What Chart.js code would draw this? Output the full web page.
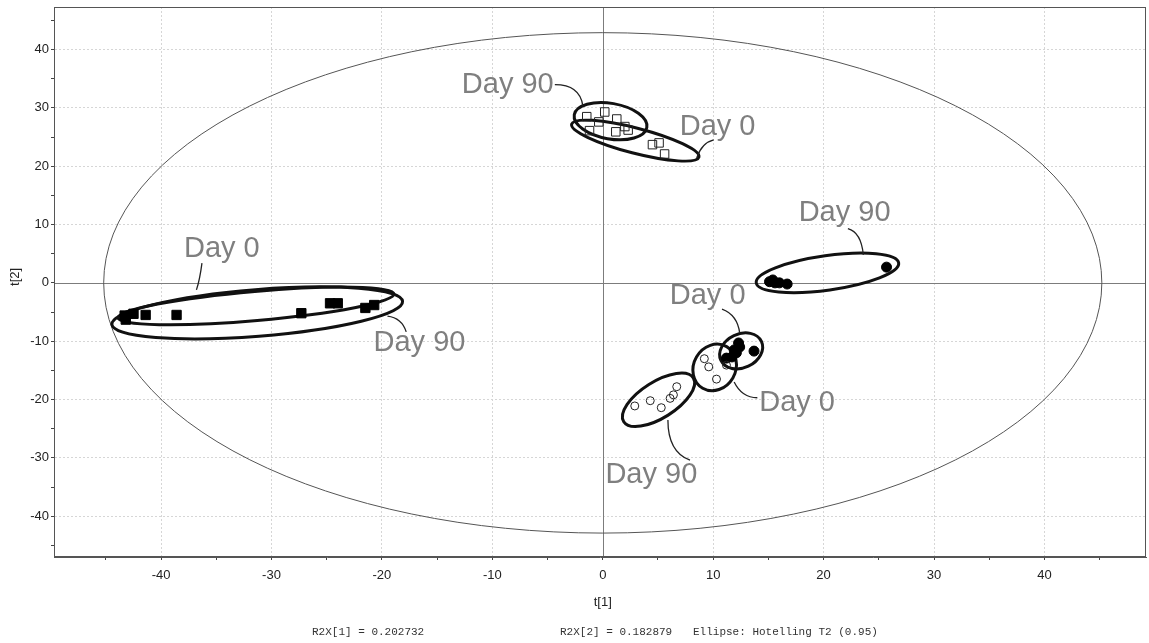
<!DOCTYPE html>
<html>
<head>
<meta charset="utf-8">
<title>PCA score plot t[1] / t[2]</title>
<script src="https://cdn.jsdelivr.net/npm/chart.js@4.4.1/dist/chart.umd.min.js"></script>
<style>
  html, body { margin: 0; padding: 0; background: #fff; }
  #wrap { width: 1149px; height: 643px; }
</style>
</head>
<body>
<div id="wrap"><canvas id="scoreChart" width="1149" height="643"></canvas></div>
<script>
// ---- scores (t[1], t[2]) per group ----
const filledSqDay0X  = [-43.3, -41.4, -27.3, -24.0, -20.7];
const filledSqDay0Y  = [-5.6, -5.5, -5.2, -3.5, -3.8];
const filledSqDay90X = [-43.2, -42.5, -38.6, -24.7, -21.5];
const filledSqDay90Y = [-6.3, -5.3, -5.5, -3.5, -4.3];

const openSqDay90X = [-1.45, 0.18, -0.36, 1.27, 2.0];
const openSqDay90Y = [28.5, 29.3, 27.6, 28.1, 26.8];
const openSqDay0X  = [-1.2, 1.18, 2.3, 4.5, 5.1, 5.6];
const openSqDay0Y  = [26.1, 25.9, 26.2, 23.7, 24.0, 22.1];

const openCircDay0X  = [9.2, 9.6, 10.3, 11.2];
const openCircDay0Y  = [-13.0, -14.4, -16.5, -14.1];
const openCircDay90X = [2.9, 4.3, 5.3, 6.1, 6.4, 6.7];
const openCircDay90Y = [-21.1, -20.2, -21.4, -19.8, -19.2, -17.8];

const filledCircDay0X  = [12.3, 12.4, 12.1, 11.7, 11.2, 13.7, 11.9];
const filledCircDay0Y  = [-10.3, -11.0, -12.0, -12.7, -12.9, -11.7, -11.5];
const filledCircDay90X = [15.1, 15.4, 15.6, 16.0, 16.7, 25.7];
const filledCircDay90Y = [0.2, 0.5, 0.0, 0.0, -0.2, 2.7];

// ---- group confidence ellipses: major axis end points + half width (t[2] units) ----
const ellipseStart = [[-43.9, -6.0], [-44.46, -7.12], [-2.58, 28.82], [-2.82, 27.22],
                      [10.7, -13.3], [9.05, -18.06], [1.9, -23.8], [13.9, 0.0]];
const ellipseEnd   = [[-18.9, -1.9], [-18.13, -3.17], [3.99, 26.64], [8.71, 21.56],
                      [14.37, -10.03], [11.22, -10.93], [8.2, -16.3], [26.8, 3.43]];
const ellipseHalfWidth = [2.5, 4.0, 3.05, 2.15, 2.9, 3.6, 3.1, 2.95];

// Hotelling T2 (0.95) radii
const hotellingT1 = 45.2;
const hotellingT2 = 42.9;

// ---- group labels with leader curves (start, control, end) ----
const labelText = ['Day 90', 'Day 0', 'Day 90', 'Day 0', 'Day 90', 'Day 0', 'Day 0', 'Day 90'];
const labelAt = [[-8.6, 34.0], [10.4, 26.8], [21.9, 12.0], [-34.5, 5.8],
                 [-16.6, -10.3], [9.5, -2.2], [17.6, -20.6], [4.4, -32.9]];
const leaderPath = [
  [[-4.34, 34.0], [-2.08, 34.0], [-1.81, 30.4]],
  [[8.51, 21.4], [8.96, 24.0], [10.05, 24.5]],
  [[22.2, 9.3], [23.4, 8.7], [23.6, 4.8]],
  [[-36.3, 3.4], [-36.5, 0.5], [-36.8, -1.2]],
  [[-19.5, -5.7], [-18.2, -6.0], [-17.8, -8.4]],
  [[10.8, -4.5], [12.2, -5.5], [12.4, -8.6]],
  [[11.9, -17.0], [12.6, -19.7], [14.0, -19.7]],
  [[5.9, -23.5], [5.9, -29.0], [7.9, -30.4]]
];

const footerText = ['R2X[1] = 0.202732', 'R2X[2] = 0.182879', 'Ellipse: Hotelling T2 (0.95)'];

const zip = (xs, ys) => xs.map((x, i) => ({ x, y: ys[i] }));

function series(label, xs, ys, style, filled, r) {
  return {
    label,
    data: zip(xs, ys),
    pointStyle: style,
    pointRadius: r,
    pointHoverRadius: r,
    pointBackgroundColor: filled ? '#000' : 'rgba(0,0,0,0)',
    pointBorderColor: filled ? '#000' : '#222',
    pointBorderWidth: 1,
    showLine: false
  };
}

const overlayPlugin = {
  id: 'scoreOverlay',
  beforeDatasetsDraw(chart) {
    const { ctx, chartArea: a, scales: { x, y } } = chart;
    const px = p => [x.getPixelForValue(p[0]), y.getPixelForValue(p[1])];
    ctx.save();
    ctx.beginPath();
    ctx.rect(a.left, a.top, a.right - a.left, a.bottom - a.top);
    ctx.clip();

    // zero axes
    const x0 = Math.round(x.getPixelForValue(0)) + 0.5;
    const y0 = Math.round(y.getPixelForValue(0)) + 0.5;
    ctx.strokeStyle = '#7c7c7c';
    ctx.lineWidth = 1;
    ctx.beginPath();
    ctx.moveTo(a.left, y0); ctx.lineTo(a.right, y0);
    ctx.moveTo(x0, a.top); ctx.lineTo(x0, a.bottom);
    ctx.stroke();

    // Hotelling ellipse
    const [cx, cy] = px([0, 0]);
    ctx.beginPath();
    ctx.ellipse(cx, cy, x.getPixelForValue(hotellingT1) - cx, cy - y.getPixelForValue(hotellingT2), 0, 0, Math.PI * 2);
    ctx.strokeStyle = '#555';
    ctx.lineWidth = 1;
    ctx.stroke();

    // group ellipses
    ctx.strokeStyle = '#111';
    ctx.lineWidth = 3;
    ellipseStart.forEach((s, i) => {
      const [x1, y1] = px(s);
      const [x2, y2] = px(ellipseEnd[i]);
      const rx = Math.hypot(x2 - x1, y2 - y1) / 2;
      const ry = Math.abs(y.getPixelForValue(0) - y.getPixelForValue(ellipseHalfWidth[i]));
      ctx.beginPath();
      ctx.ellipse((x1 + x2) / 2, (y1 + y2) / 2, rx, ry, Math.atan2(y2 - y1, x2 - x1), 0, Math.PI * 2);
      ctx.stroke();
    });

    // leader curves
    ctx.strokeStyle = '#222';
    ctx.lineWidth = 1.3;
    leaderPath.forEach(path => {
      const [p0, p1, p2] = path.map(px);
      ctx.beginPath();
      ctx.moveTo(p0[0], p0[1]);
      ctx.quadraticCurveTo(p1[0], p1[1], p2[0], p2[1]);
      ctx.stroke();
    });
    ctx.restore();
  },
  afterDraw(chart) {
    const { ctx, chartArea: a, scales: { x, y } } = chart;
    ctx.save();

    // group labels
    ctx.font = '29px "Liberation Sans", Arial, sans-serif';
    ctx.fillStyle = '#7f7f7f';
    ctx.textAlign = 'center';
    ctx.textBaseline = 'middle';
    labelText.forEach((t, i) => {
      ctx.fillText(t, x.getPixelForValue(labelAt[i][0]), y.getPixelForValue(labelAt[i][1]));
    });

    // plot frame
    ctx.strokeStyle = '#555';
    ctx.lineWidth = 1;
    ctx.strokeRect(Math.round(a.left) + 0.5, Math.round(a.top) + 0.5,
                   Math.round(a.right - a.left) - 1, Math.round(a.bottom - a.top) - 1);

    // axis titles
    ctx.fillStyle = '#222';
    ctx.font = '13px "Liberation Sans", Arial, sans-serif';
    ctx.fillText('t[1]', x.getPixelForValue(0), 602);
    ctx.save();
    ctx.translate(15, y.getPixelForValue(0) - 6);
    ctx.rotate(-Math.PI / 2);
    ctx.fillText('t[2]', 0, 0);
    ctx.restore();

    // model summary line
    ctx.font = '11px "Liberation Mono", "Courier New", monospace';
    ctx.fillStyle = '#333';
    ctx.textAlign = 'left';
    const footX = [312, 560, 693];
    footerText.forEach((t, i) => ctx.fillText(t, footX[i], 632));
    ctx.restore();
  }
};

const gridColor = c => (c.tick && c.tick.value % 10 === 0 && c.tick.value !== 0) ? '#d6d6d6' : 'rgba(0,0,0,0)';
const tickLabel = v => (v % 10 === 0 ? String(v) : '');

// fixed axis boxes, no extra label overflow padding
const fitX = s => { s.height = 86; s.paddingLeft = 0; s.paddingRight = 0; };
const fitY = s => { s.width = 54; s.paddingTop = 0; s.paddingBottom = 0; };

const ctx = document.getElementById('scoreChart').getContext('2d');
new Chart(ctx, {
  type: 'scatter',
  data: {
    datasets: [
      series('Day 0', filledSqDay0X, filledSqDay0Y, 'rect', true, 6.6),
      series('Day 90', filledSqDay90X, filledSqDay90Y, 'rect', true, 6.6),
      series('Day 90', openSqDay90X, openSqDay90Y, 'rect', false, 6),
      series('Day 0', openSqDay0X, openSqDay0Y, 'rect', false, 6),
      series('Day 0', openCircDay0X, openCircDay0Y, 'circle', false, 4),
      series('Day 90', openCircDay90X, openCircDay90Y, 'circle', false, 4),
      series('Day 0', filledCircDay0X, filledCircDay0Y, 'circle', true, 5),
      series('Day 90', filledCircDay90X, filledCircDay90Y, 'circle', true, 5)
    ]
  },
  options: {
    responsive: false,
    animation: false,
    events: [],
    layout: { autoPadding: false, padding: { top: 7, right: 3, left: 0, bottom: 0 } },
    plugins: { legend: { display: false }, tooltip: { enabled: false } },
    scales: {
      x: {
        type: 'linear',
        min: -49.7,
        max: 49.2,
        afterFit: fitX,
        ticks: {
          stepSize: 5,
          includeBounds: false,
          autoSkip: false,
          maxRotation: 0,
          padding: 8,
          color: '#222',
          font: { family: '"Liberation Sans", Arial, sans-serif', size: 13 },
          callback: tickLabel
        },
        grid: { color: gridColor, tickColor: '#444', tickLength: 3, lineWidth: 1 },
        border: { color: '#555', width: 1, dash: [2, 2] }
      },
      y: {
        type: 'linear',
        min: -47,
        max: 47.3,
        afterFit: fitY,
        ticks: {
          stepSize: 5,
          includeBounds: false,
          autoSkip: false,
          padding: 2,
          color: '#222',
          font: { family: '"Liberation Sans", Arial, sans-serif', size: 13 },
          callback: tickLabel
        },
        grid: { color: gridColor, tickColor: '#444', tickLength: 3, lineWidth: 1 },
        border: { color: '#555', width: 1, dash: [2, 2] }
      }
    }
  },
  plugins: [overlayPlugin]
});
</script>
</body>
</html>
